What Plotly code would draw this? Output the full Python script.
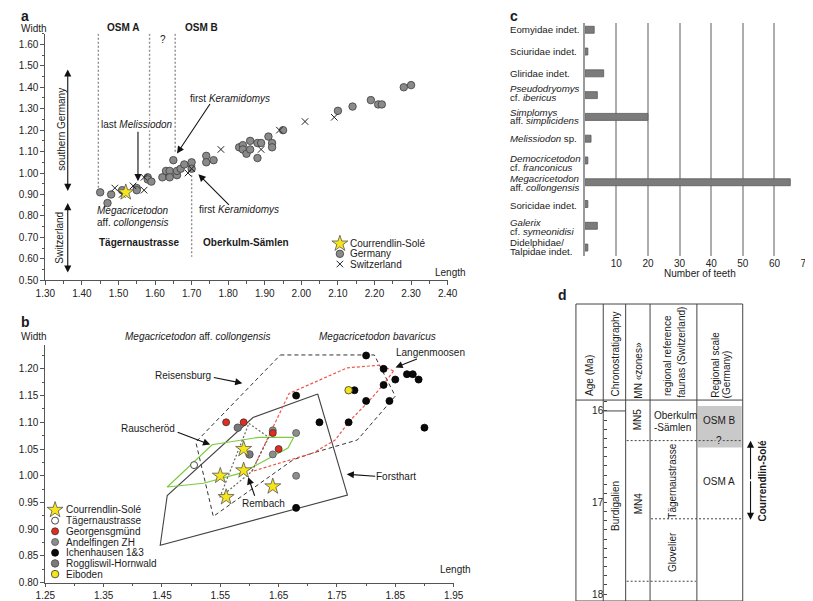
import plotly.graph_objects as go

W, H = 813, 601
FONT = "Liberation Sans, Arial, Helvetica, sans-serif"
TXT = "#1a1a1a"
AX = "#555555"

# ---------------- panel a data ----------------
a_germany_len = [1.45, 1.47, 1.48, 1.51, 1.55, 1.55, 1.58, 1.58, 1.59, 1.62, 1.63, 1.64, 1.64,
                 1.65, 1.66, 1.66, 1.67, 1.68, 1.70, 1.70, 1.74, 1.74, 1.76, 1.83, 1.84, 1.84,
                 1.85, 1.86, 1.86, 1.88, 1.88, 1.89, 1.91, 1.92, 1.92, 1.95, 2.10, 2.14, 2.19,
                 2.21, 2.22, 2.28, 2.30]
a_germany_wid = [0.91, 0.86, 0.90, 0.92, 0.93, 0.92, 0.98, 0.97, 0.96, 0.98, 1.01, 1.01, 0.98,
                 1.06, 0.99, 1.01, 1.02, 1.04, 1.05, 1.02, 1.08, 1.05, 1.06, 1.12, 1.13, 1.11,
                 1.09, 1.15, 1.11, 1.07, 1.14, 1.14, 1.17, 1.14, 1.12, 1.20, 1.29, 1.31, 1.34,
                 1.32, 1.32, 1.40, 1.41]
a_swiss_len = [1.49, 1.51, 1.54, 1.57, 1.57, 1.69, 1.70, 1.78, 1.89, 1.94, 2.01, 2.09]
a_swiss_wid = [0.93, 0.90, 0.94, 0.92, 0.98, 1.00, 1.02, 1.11, 1.11, 1.20, 1.24, 1.26]
a_courr_len = [1.52]
a_courr_wid = [0.91]
a_zone_x = [1.445, 1.585, 1.655, 1.70]
a_zone_top = [1.65, 1.65, 1.65, 0.99]
a_zone_bottom = [0.93, 1.02, 1.09, 0.61]

# ---------------- panel b data ----------------
b_courr_len = [1.59, 1.55, 1.59, 1.56, 1.64]
b_courr_wid = [1.05, 1.00, 1.01, 0.96, 0.98]
b_tager_len = [1.505]
b_tager_wid = [1.02]
b_georg_len = [1.56, 1.59, 1.64, 1.65]
b_georg_wid = [1.10, 1.10, 1.08, 1.05]
b_andel_len = [1.64, 1.68, 1.64, 1.68]
b_andel_wid = [1.085, 1.08, 1.04, 1.00]
b_ichen_len = [1.80, 1.83, 1.85, 1.87, 1.88, 1.89, 1.83, 1.78, 1.80, 1.84, 1.68, 1.72, 1.77, 1.90, 1.68]
b_ichen_wid = [1.225, 1.20, 1.18, 1.19, 1.19, 1.18, 1.17, 1.16, 1.14, 1.14, 1.15, 1.10, 1.10, 1.09, 0.94]
b_roggl_len = [1.58, 1.60]
b_roggl_wid = [1.09, 1.04]
b_eibod_len = [1.77]
b_eibod_wid = [1.16]

reis_len = [1.653, 1.814, 1.85, 1.785, 1.71, 1.675, 1.538, 1.508, 1.653]
reis_wid = [1.226, 1.226, 1.149, 1.067, 1.043, 1.03, 0.924, 1.063, 1.226]
forst_len = [1.717, 1.606, 1.459, 1.447, 1.768, 1.717]
forst_wid = [1.153, 1.109, 0.963, 0.870, 0.964, 1.153]
lang_len = [1.847, 1.825, 1.768, 1.668, 1.604, 1.668, 1.71, 1.747, 1.772, 1.80, 1.83, 1.847]
lang_wid = [1.196, 1.207, 1.202, 1.154, 1.008, 1.030, 1.043, 1.067, 1.103, 1.134, 1.171, 1.196]
rausch_len = [1.676, 1.616, 1.536, 1.459, 1.521, 1.588, 1.666, 1.676]
rausch_wid = [1.072, 1.072, 1.058, 0.979, 0.986, 1.006, 1.052, 1.072]
remb_len = [1.599, 1.633, 1.604, 1.549, 1.599]
remb_wid = [1.098, 1.072, 1.008, 0.959, 1.098]

# ---------------- panel c data ----------------
c_taxa = [
    ["Eomyidae indet."],
    ["Sciuridae indet."],
    ["Gliridae indet."],
    ["<i>Pseudodryomys</i>", "cf. <i>ibericus</i>"],
    ["<i>Simplomys</i>", "aff. <i>simplicidens</i>"],
    ["<i>Melissiodon</i> sp."],
    ["<i>Democricetodon</i>", "cf. <i>franconicus</i>"],
    ["<i>Megacricetodon</i>", "aff. <i>collongensis</i>"],
    ["Soricidae indet."],
    ["<i>Galerix</i>", "cf. <i>symeonidisi</i>"],
    ["Didelphidae/", "Talpidae indet."],
]
c_teeth = [3, 1, 6, 4, 20, 2, 1, 65, 1, 4, 1]
c_ticks = [10, 20, 30, 40, 50, 60, 70]

# ---------------- panel d data ----------------
d_age_ticks = [16, 17, 18]
d_age_range = [18.076, 15.881]
d_langhian_base = 16.0
d_mn5_base = 16.324
d_tager_base = 17.178
d_mn4_base = 17.86
d_osmb = [15.946, 16.40]

fig = go.Figure()


def S(**kw):
    fig.add_trace(go.Scatter(showlegend=False, hoverinfo="skip", **kw))


def T(x, y, text, size=10, bold=False, xanchor="center", yanchor="middle", angle=0,
      color=TXT, bg=None):
    if bold:
        text = "<b>" + text + "</b>"
    fig.add_annotation(x=x / W, y=1 - y / H, xref="paper", yref="paper", text=text,
                       showarrow=False, font=dict(family=FONT, size=size, color=color),
                       xanchor=xanchor, yanchor=yanchor, textangle=angle,
                       bgcolor=bg, borderpad=0)


def A(x0, y0, x1, y1, both=False):
    fig.add_annotation(x=x1 / W, y=1 - y1 / H, xref="paper", yref="paper",
                       ax=x0 - x1, ay=y0 - y1, axref="pixel", ayref="pixel", text="",
                       showarrow=True, arrowhead=2, arrowsize=1.3, arrowwidth=1.1,
                       arrowcolor="#111", arrowside="end+start" if both else "end",
                       standoff=0, startstandoff=0)


# ---------- panel a ----------
for xv, y0, y1 in zip(a_zone_x, a_zone_top, a_zone_bottom):
    fig.add_shape(type="line", xref="x", yref="y", x0=xv, x1=xv, y0=y0, y1=y1,
                  line=dict(color="#8c8c8c", width=1.4, dash="2px,2px"), layer="below")

circ_a = dict(symbol="circle", size=7.5, color="#8a8a8a", line=dict(color="#3c3c3c", width=0.8))
x_a = dict(symbol="x-thin", size=6.5, color="#222", line=dict(color="#222", width=1))
star = dict(symbol="star", size=12, color="#f7e51c", line=dict(color="#555", width=0.8))

S(x=a_germany_len, y=a_germany_wid, mode="markers", xaxis="x", yaxis="y", marker=circ_a)
S(x=a_swiss_len, y=a_swiss_wid, mode="markers", xaxis="x", yaxis="y", marker=x_a)
S(x=a_courr_len, y=a_courr_wid, mode="markers", xaxis="x", yaxis="y", marker=star)

# ---------- panel b ----------
S(x=reis_len, y=reis_wid, mode="lines", xaxis="x2", yaxis="y2",
  line=dict(color="#333", width=1, dash="4px,3px"))
S(x=forst_len, y=forst_wid, mode="lines", xaxis="x2", yaxis="y2",
  line=dict(color="#444", width=1.1))
S(x=lang_len, y=lang_wid, mode="lines", xaxis="x2", yaxis="y2",
  line=dict(color="#f0574a", width=1.2, dash="3px,2px"))
S(x=rausch_len, y=rausch_wid, mode="lines", xaxis="x2", yaxis="y2",
  line=dict(color="#7ccc3a", width=1.2))
S(x=remb_len, y=remb_wid, mode="lines", xaxis="x2", yaxis="y2",
  line=dict(color="#666", width=1.2, dash="2px,2px"))

m_tager = dict(symbol="circle", size=7, color="white", line=dict(color="#333", width=0.9))
m_georg = dict(symbol="circle", size=7, color="#e52a1e", line=dict(color="#333", width=0.8))
m_andel = dict(symbol="circle", size=7, color="#8d8d8d", line=dict(color="#555", width=0.8))
m_ichen = dict(symbol="circle", size=7, color="#0a0a0a", line=dict(color="#000", width=0.8))
m_roggl = dict(symbol="circle", size=7.5, color="#7a7a7a", line=dict(color="#444", width=0.8))
m_eibod = dict(symbol="circle", size=7.5, color="#f4e41b", line=dict(color="#333", width=0.8))

S(x=b_andel_len, y=b_andel_wid, mode="markers", xaxis="x2", yaxis="y2", marker=m_andel)
S(x=b_roggl_len, y=b_roggl_wid, mode="markers", xaxis="x2", yaxis="y2", marker=m_roggl)
S(x=b_georg_len, y=b_georg_wid, mode="markers", xaxis="x2", yaxis="y2", marker=m_georg)
S(x=b_ichen_len, y=b_ichen_wid, mode="markers", xaxis="x2", yaxis="y2", marker=m_ichen)
S(x=b_eibod_len, y=b_eibod_wid, mode="markers", xaxis="x2", yaxis="y2", marker=m_eibod)
S(x=b_tager_len, y=b_tager_wid, mode="markers", xaxis="x2", yaxis="y2", marker=m_tager)
S(x=b_courr_len, y=b_courr_wid, mode="markers", xaxis="x2", yaxis="y2", marker=star)

# ---------- panel c ----------
fig.add_trace(go.Bar(x=c_teeth, y=list(range(len(c_teeth))), orientation="h", xaxis="x3",
                     yaxis="y3", width=0.32, showlegend=False, hoverinfo="skip",
                     marker=dict(color="#7b7b7b", line=dict(color="#5a5a5a", width=0.8))))

# ---------- legends (pixel overlay axis) ----------
leg_a = [("Courrendlin-Solé", star), ("Germany", circ_a), ("Switzerland", x_a)]
for i, (name, mk) in enumerate(leg_a):
    yy = 238 + 10.3 * i
    S(x=[330], y=[yy], mode="markers", xaxis="x5", yaxis="y5", marker=mk, cliponaxis=False)
    T(339, yy, name, xanchor="left")

leg_b = [("Courrendlin-Solé", star), ("Tägernaustrasse", m_tager), ("Georgensgmünd", m_georg),
         ("Andelfingen ZH", m_andel), ("Ichenhausen 1&3", m_ichen),
         ("Roggliswil-Hornwald", m_roggl), ("Eiboden", m_eibod)]
for i, (name, mk) in enumerate(leg_b):
    yy = 507 + 10.8 * i
    S(x=[38], y=[yy], mode="markers", xaxis="x5", yaxis="y5", marker=mk, cliponaxis=False)
    T(48, yy, name, xanchor="left")

# ---------- panel a texts ----------
T(2, 8, "a", size=14, bold=True, xanchor="left")
T(2, 21, "Width", xanchor="left")
T(427, 267, "Length", xanchor="left")
T(108, 20, "OSM A", bold=True)
T(188, 20, "OSM B", bold=True)
T(149, 32, "?")
T(217, 91, "first <i>Keramidomys</i>")
A(197, 96, 163, 147)
T(122, 118, "last <i>Melissiodon</i>", bg="white")
A(123, 124, 123, 175)
T(45, 122, "southern Germany", angle=-90)
A(51, 185, 51, 62, both=True)
T(43, 232, "Switzerland", angle=-90)
A(51, 268, 51, 197, both=True)
T(80, 205, "<i>Megacricetodon</i>", xanchor="left")
T(80, 217, "aff. <i>collongensis</i>", xanchor="left")
T(185, 204, "first <i>Keramidomys</i>", xanchor="left")
A(217, 200, 185, 168)
T(124, 237, "Tägernaustrasse", bold=True)
T(234, 237, "Oberkulm-Sämlen", bold=True)

# ---------- panel b texts ----------
T(2, 317, "b", size=14, bold=True, xanchor="left")
T(2, 332, "Width", xanchor="left")
T(432, 567, "Length", xanchor="left")
T(184, 332, "<i>Megacricetodon</i> aff. <i>collongensis</i>")
T(308, 332, "<i>Megacricetodon bavaricus</i>", xanchor="left")
T(169, 371, "Reisensburg")
A(200, 373, 230, 379)
T(133, 425, "Rauscheröd")
A(163, 428, 197, 441)
T(386, 348, "Langenmoosen", xanchor="left")
A(410, 354, 387, 363)
T(388, 473, "Forsthart")
A(367, 473, 337, 471)
T(252, 500, "Rembach")
A(243, 494, 236, 474)

# ---------- panel c texts ----------
T(503, 8, "c", size=14, bold=True, xanchor="left")
c_shift = [0, 0, 0, -2, -0.5, 0, 2.5, 0.8, 1, 1.2, -0.5]
for i, lines in enumerate(c_taxa):
    n = len(lines)
    for j, line in enumerate(lines):
        off = (j - (n - 1) / 2) * 8.6 + c_shift[i]
        fig.add_annotation(x=503 / W, xref="paper", y=i, yref="y3", yshift=-off,
                           text=line, showarrow=False, xanchor="left", yanchor="middle",
                           font=dict(family=FONT, size=9.7, color=TXT), borderpad=0)
T(699, 268, "Number of teeth")

# ---------- panel d ----------
T(553, 290, "d", size=14, bold=True, xanchor="left")
col_x = [572, 600, 623, 648, 696, 743]
top_y, head_y, bot_y = 299, 396, 599
line_c = "#444"
for xv in col_x:
    fig.add_shape(type="line", xref="x5", yref="y5", x0=xv, x1=xv, y0=top_y, y1=bot_y,
                  line=dict(color=line_c, width=1))
for yv in (top_y, head_y, bot_y):
    fig.add_shape(type="line", xref="x5", yref="y5", x0=572, x1=743, y0=yv, y1=yv,
                  line=dict(color=line_c, width=1))
fig.add_shape(type="rect", xref="x5", yref="y4", x0=697, x1=742, y0=d_osmb[0], y1=d_osmb[1],
              fillcolor="#c9c9c9", line=dict(width=0), layer="below")
fig.add_shape(type="line", xref="x5", yref="y4", x0=600, x1=623, y0=d_langhian_base,
              y1=d_langhian_base, line=dict(color=line_c, width=1))
dot = dict(color=line_c, width=1, dash="2px,2px")
fig.add_shape(type="line", xref="x5", yref="y4", x0=624, x1=743, y0=d_mn5_base, y1=d_mn5_base,
              line=dot)
fig.add_shape(type="line", xref="x5", yref="y4", x0=649, x1=743, y0=d_tager_base,
              y1=d_tager_base, line=dot)
fig.add_shape(type="line", xref="x5", yref="y4", x0=624, x1=695, y0=d_mn4_base, y1=d_mn4_base,
              line=dot)

T(586, 371, "Age (Ma)", angle=-90)
T(613, 349, "Chronostratigraphy", angle=-90)
T(636, 366, "MN «zones»", angle=-90)
T(666, 351, "regional reference", angle=-90)
T(680, 348, "faunas (Switzerland)", angle=-90)
T(715, 360, "Regional scale", angle=-90)
T(726, 370, "(Germany)", angle=-90)

T(613, 503, "Burdigalien", angle=-90)
T(636, 415, "MN5", angle=-90)
T(636, 500, "MN4", angle=-90)
T(651, 412, "Oberkulm", xanchor="left")
T(651, 424, "-Sämlen", xanchor="left")
T(671, 478, "Tägernaustrasse", angle=-90)
T(671, 549, "Glovelier", angle=-90)
T(719, 417, "OSM B")
T(719, 437, "?", bg="#c9c9c9")
T(719, 478, "OSM A")
T(763, 477, "Courrendlin-Solé", bold=True, angle=-90)
A(751, 477, 751, 437)
A(751, 477, 751, 517)

# ---------- layout ----------
tickfont = dict(family=FONT, size=10, color="#222")
common = dict(showline=True, linecolor=AX, linewidth=1, ticks="outside",
              tickcolor=AX, tickwidth=1, showgrid=False, zeroline=False, tickfont=tickfont)
b_bot = 580.5
b_step = 27.0

fig.update_layout(
    width=W, height=H, margin=dict(l=0, r=0, t=0, b=0),
    paper_bgcolor="white", plot_bgcolor="rgba(0,0,0,0)", showlegend=False,
    font=dict(family=FONT, size=10, color=TXT),
    xaxis=dict(domain=[28 / W, 440.5 / W], range=[1.30, 2.40], anchor="y", dtick=0.1,
               tick0=1.3, tickformat=".2f", ticklen=4,
               minor=dict(dtick=0.05, ticks="outside", ticklen=2.5, tickcolor=AX), **common),
    yaxis=dict(domain=[1 - 275 / H, 1 - 25.9 / H], range=[0.50, 1.65], anchor="x", dtick=0.1,
               tick0=0.5, tickformat=".2f", ticklen=4,
               minor=dict(dtick=0.05, ticks="outside", ticklen=2.5, tickcolor=AX), **common),
    xaxis2=dict(domain=[28 / W, 446.6 / W], range=[1.25, 1.95], anchor="y2", dtick=0.1,
                tick0=1.25, tickformat=".2f", ticklen=3,
                minor=dict(dtick=0.05, ticks="outside", ticklen=2, tickcolor=AX), **common),
    yaxis2=dict(domain=[1 - b_bot / H, 1 - (b_bot - 8.9 * b_step) / H], range=[0.80, 1.245],
                anchor="x2", dtick=0.05, tick0=0.8, tickformat=".2f", ticklen=4,
                minor=dict(dtick=0.025, ticks="outside", ticklen=2.5, tickcolor=AX), **common),
    xaxis3=dict(domain=[581 / W, 808 / W], range=[0, 70], anchor="y3", tickvals=c_ticks,
                showgrid=True, gridcolor="#adadad", gridwidth=1.5, showline=False,
                zeroline=False, ticks="", tickfont=tickfont),
    yaxis3=dict(domain=[1 - 250 / H, 1 - 15 / H], range=[10.364, -0.318], anchor="x3",
                showticklabels=False, showline=True, linecolor="#9a9a9a", linewidth=2,
                ticks="", showgrid=False, zeroline=False),
    xaxis4=dict(domain=[600 / W, 743 / W], range=[0, 1], anchor="y4", visible=False),
    yaxis4=dict(domain=[1 - bot_y / H, 1 - head_y / H], range=d_age_range, anchor="free",
                position=600 / W, tickvals=d_age_ticks, ticks="inside", ticklen=3,
                tickcolor=line_c, showline=False, showgrid=False, zeroline=False,
                tickfont=tickfont,
                minor=dict(dtick=0.1, ticks="inside", ticklen=3, tickcolor=line_c)),
    xaxis5=dict(domain=[0, 1], range=[0, W], anchor="y5", visible=False),
    yaxis5=dict(domain=[0, 1], range=[H, 0], anchor="x5", visible=False),
)

fig.write_html("out.html")
